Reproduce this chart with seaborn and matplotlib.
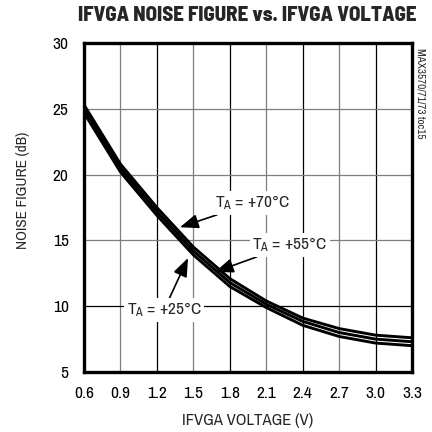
import matplotlib
matplotlib.use("Agg")
import matplotlib.pyplot as plt
import seaborn as sns
import pandas as pd

voltage = [0.6, 0.9, 1.2, 1.5, 1.8, 2.1, 2.4, 2.7, 3.0, 3.3]
nf_70 = [25.3, 20.8, 17.5, 14.5, 12.1, 10.4, 9.1, 8.3, 7.8, 7.6]
nf_55 = [25.0, 20.5, 17.2, 14.2, 11.8, 10.15, 8.85, 8.0, 7.5, 7.3]
nf_25 = [24.7, 20.2, 16.9, 13.9, 11.5, 9.9, 8.55, 7.7, 7.2, 7.0]
xticks = [0.6, 0.9, 1.2, 1.5, 1.8, 2.1, 2.4, 2.7, 3.0, 3.3]
yticks = [5, 10, 15, 20, 25, 30]

sns.set_style("white")
BODY = ["Archivo Narrow", "DejaVu Sans"]
TITLE = ["Barlow Semi Condensed", "Barlow Condensed", "DejaVu Sans"]
plt.rcParams["font.family"] = BODY
plt.rcParams["mathtext.fontset"] = "custom"
plt.rcParams["mathtext.rm"] = "Archivo Narrow"
plt.rcParams["mathtext.it"] = "Archivo Narrow"

df = pd.DataFrame({
    "V": voltage * 3,
    "NF": nf_70 + nf_55 + nf_25,
    "T": ["70"] * len(voltage) + ["55"] * len(voltage) + ["25"] * len(voltage),
})

fig = plt.figure(figsize=(4.32, 4.32), dpi=100)
ax = fig.add_axes([84 / 432, 1 - 372 / 432, 328 / 432, 329 / 432])

sns.lineplot(data=df, x="V", y="NF", hue="T", palette=["black"] * 3,
             linewidth=2.1, legend=False, ax=ax, zorder=3)

ax.set_xlim(0.6, 3.3)
ax.set_ylim(5, 30)
ax.set_xticks(xticks)
ax.set_xticklabels([f"{t:.1f}" for t in xticks])
ax.set_yticks(yticks)
ax.tick_params(axis="x", length=0, labelsize=12.5, colors="black", pad=10)
ax.tick_params(axis="y", length=0, labelsize=12.5, colors="black", pad=11)
ax.grid(True, linewidth=0.9)
for i, gl in enumerate(ax.get_xgridlines()):
    gl.set_color("#7f7f7f" if i % 2 == 1 else "black")
for i, gl in enumerate(ax.get_ygridlines()):
    gl.set_color("black" if i in (1, 5) else "#7f7f7f")
for s in ax.spines.values():
    s.set_linewidth(2.4)
    s.set_color("black")
    s.set_zorder(5)

ax.set_xlabel("IFVGA VOLTAGE (V)", fontsize=12)
ax.set_ylabel("NOISE FIGURE (dB)", fontsize=11)
ax.xaxis.set_label_coords(0.5, -0.125)
ax.yaxis.set_label_coords(-0.165, 0.553)
fig.text(0.572, 0.964, "IFVGA NOISE FIGURE vs. IFVGA VOLTAGE", ha="center",
         va="center", fontsize=15, fontweight=800, family=TITLE)
fig.text(0.973, 0.89, "MAX3570/71/73 toc15", rotation=270, ha="center",
         va="top", fontsize=8)

bbox = dict(boxstyle="square,pad=0.15", fc="white", ec="none")
arrow = dict(arrowstyle="-|>,head_length=0.9,head_width=0.35", color="black",
             lw=1.2, shrinkA=0, shrinkB=0)
ax.annotate("T$_\\mathrm{A}$ = +70°C", xy=(1.39, 16.0), xytext=(1.68, 17.85),
            ha="left", va="center", fontsize=12.5, bbox=bbox,
            arrowprops=arrow, zorder=6)
ax.annotate("T$_\\mathrm{A}$ = +55°C", xy=(1.678, 12.6), xytext=(1.985, 14.65),
            ha="left", va="center", fontsize=12.5, bbox=bbox,
            arrowprops=arrow, zorder=6)
ax.annotate("T$_\\mathrm{A}$ = +25°C", xy=(1.456, 13.66), xytext=(0.95, 9.7),
            ha="left", va="center", fontsize=12.5, bbox=bbox,
            arrowprops=arrow, zorder=6)

fig.savefig("out.png", dpi=100)
